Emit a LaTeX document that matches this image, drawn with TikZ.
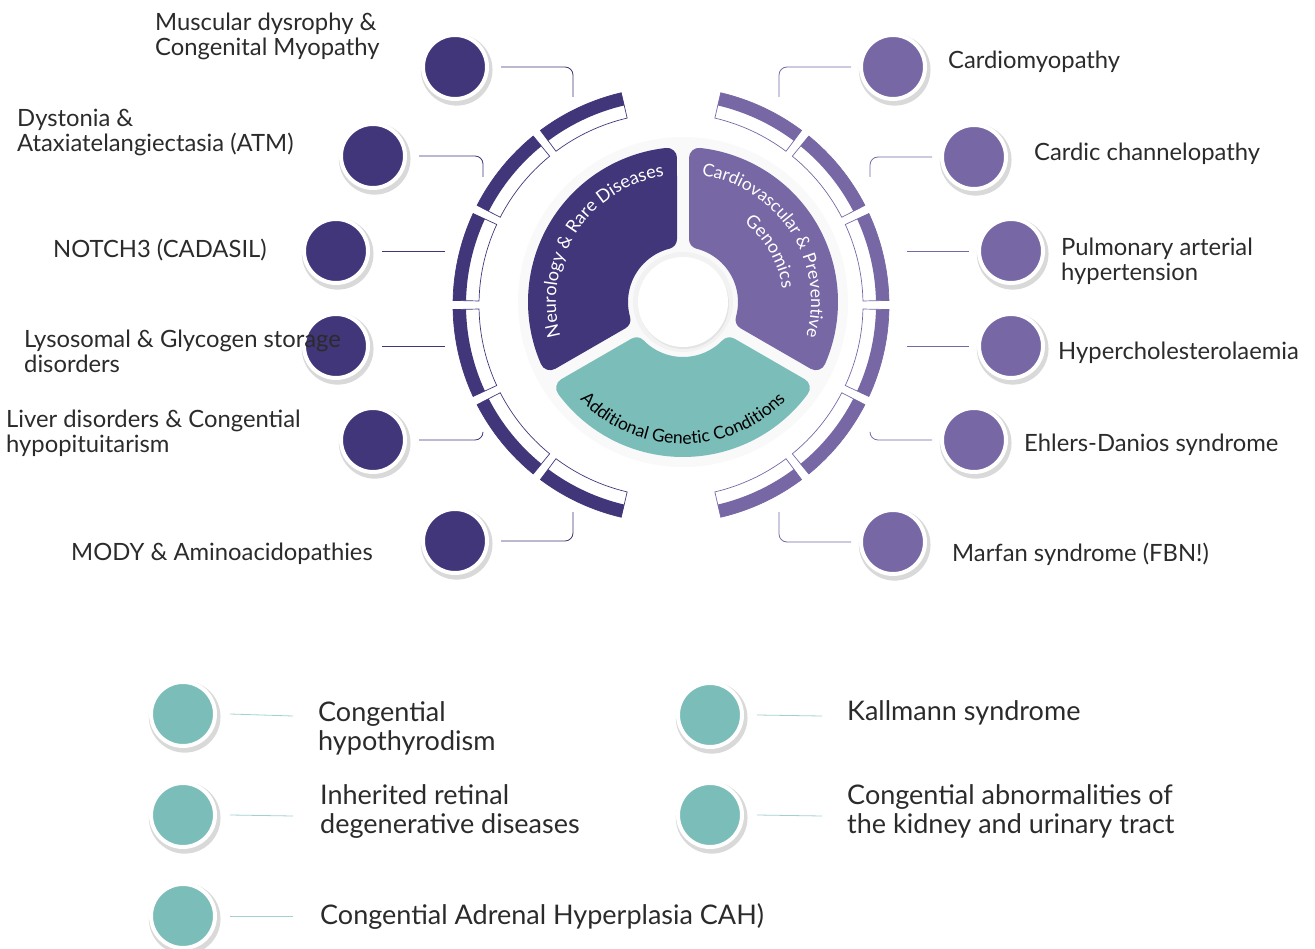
\documentclass[tikz,border=0pt]{standalone}
\usepackage{fontspec}
\setmainfont{Lato}
\usetikzlibrary{decorations.text, shadows}

\definecolor{neuro}{HTML}{41367A}
\definecolor{cardio}{HTML}{7767A5}
\definecolor{extra}{HTML}{7BBDB9}
\definecolor{ink}{HTML}{2B2B2B}

\begin{document}
\begin{tikzpicture}[x=1pt, y=1pt,
  dot/.style={circle, minimum size=64pt, inner sep=0pt, draw=white, line width=4pt,
    drop shadow={shadow xshift=1.5pt, shadow yshift=-2.5pt, shadow scale=1.12, fill=gray, opacity=0.3}},
  lbl/.style={anchor=west, align=left, inner sep=0pt, text=ink, font=\fontsize{23.8}{25}\selectfont},
  big/.style={lbl, font=\fontsize{27}{29}\selectfont},
  link/.style={line width=0.8pt, rounded corners=8pt},
  arctext/.style={decorate, decoration={text along path, text align=center, text color=#1}},
  petal/.style={fill=#1, draw=#1, line width=20pt, line join=round}]
  \useasboundingbox (0,0) rectangle (1315,-949);

  % Outer segmented ring
  \begin{scope}[shift={(671,-305)}]
    \foreach \a/\c in {102/neuro, 128/neuro, 154/neuro, 180/neuro, 206/neuro, 232/neuro,
                       -78/cardio, -52/cardio, -26/cardio, 0/cardio, 26/cardio, 52/cardio}{
      \pgfmathsetmacro\s{\a+1.2}
      \pgfmathsetmacro\e{\a+24.8}
      \fill[\c] (\s:205) arc[start angle=\s, end angle=\e, radius=205]
        -- (\e:218) arc[start angle=\e, end angle=\s, radius=218] -- cycle;
      \draw[\c, line width=0.7pt] (\s:192) arc[start angle=\s, end angle=\e, radius=192]
        -- (\e:218) arc[start angle=\e, end angle=\s, radius=218] -- cycle;
    }
  \end{scope}

  % Three sectors round the hub
  \begin{scope}[shift={(683,-302)}]
    \fill[gray!5] (0,0) circle (165);
    \filldraw[petal=neuro] (104.25:65) -- (96.34:145)
      arc[start angle=96.34, end angle=203.66, radius=145] -- (195.75:65)
      arc[start angle=195.75, end angle=104.25, radius=65] -- cycle;
    \filldraw[petal=cardio] (-15.75:65) -- (-23.66:145)
      arc[start angle=-23.66, end angle=83.66, radius=145] -- (75.75:65)
      arc[start angle=75.75, end angle=-15.75, radius=65] -- cycle;
    \filldraw[petal=extra] (224.25:65) -- (216.34:145)
      arc[start angle=216.34, end angle=323.66, radius=145] -- (315.75:65)
      arc[start angle=315.75, end angle=224.25, radius=65] -- cycle;
    \fill[gray!10] (0,0) circle (50);
    \node[circle, fill=white, minimum size=90pt, inner sep=0pt,
      drop shadow={shadow xshift=1pt, shadow yshift=-2pt, opacity=0.12}] (hub) at (0,0) {};

    % Sector titles
    \path[arctext=white, decoration={text={|\fontsize{18}{18}\selectfont|Neurology {\&} Rare Diseases}}]
      (210:127) arc[start angle=210, end angle=84, radius=127];
    \path[arctext=white, decoration={text={|\fontsize{17.5}{18}\selectfont|Cardiovascular {\&} Preventive}}]
      (95:128) arc[start angle=95, end angle=-29, radius=128];
    \path[arctext=white, decoration={text={|\fontsize{18}{18}\selectfont|Genomics}}]
      (75:100) arc[start angle=75, end angle=-15, radius=100];
    \path[arctext=black, decoration={text={|\fontsize{17.5}{18}\selectfont|Additional Genetic Conditions}}]
      (205:142) arc[start angle=205, end angle=335, radius=142];
  \end{scope}

  % Left column
  \node[dot, fill=neuro] (n1) at (455,-67) {};
  \node[dot, fill=neuro] (n2) at (373,-156) {};
  \node[dot, fill=neuro] (n3) at (336,-251) {};
  \node[dot, fill=neuro] (n4) at (336,-346) {};
  \node[dot, fill=neuro] (n5) at (373,-440) {};
  \node[dot, fill=neuro] (n6) at (455,-541) {};
  \coordinate (n1e) at (573,-97);
  \coordinate (n2e) at (483,-177);
  \coordinate (n3e) at (445,-251);
  \coordinate (n4e) at (445,-346);
  \coordinate (n5e) at (483,-433);
  \coordinate (n6e) at (573,-512);
  \draw[link, neuro] ([xshift=12pt]n1.east) -| (n1e);
  \draw[link, neuro] ([xshift=12pt]n2.east) -| (n2e);
  \draw[link, neuro] ([xshift=12pt]n3.east) -- (n3e);
  \draw[link, neuro] ([xshift=12pt]n4.east) -- (n4e);
  \draw[link, neuro] ([xshift=12pt]n5.east) -| (n5e);
  \draw[link, neuro] ([xshift=12pt]n6.east) -| (n6e);
  \node[lbl] (nl1) at (155,-36.5) {Muscular dysrophy \&\\Congenital Myopathy};
  \node[lbl] (nl2) at (17,-132) {Dystonia \&\\Ataxiatelangiectasia (ATM)};
  \node[lbl] (nl3) at (53,-250) {NOTCH3 (CADASIL)};
  \node[lbl] (nl4) at (24,-351) {Lysosomal \& Glycogen storage\\disorders};
  \node[lbl] (nl5) at (6,-433.5) {Liver disorders \& Congential\\hypopituitarism};
  \node[lbl] (nl6) at (71,-554) {MODY \& Aminoacidopathies};

  % Right column
  \node[dot, fill=cardio] (c1) at (893,-67) {};
  \node[dot, fill=cardio] (c2) at (974,-157) {};
  \node[dot, fill=cardio] (c3) at (1011,-251) {};
  \node[dot, fill=cardio] (c4) at (1011,-346) {};
  \node[dot, fill=cardio] (c5) at (974,-440) {};
  \node[dot, fill=cardio] (c6) at (893,-542) {};
  \coordinate (c1e) at (779,-97);
  \coordinate (c2e) at (870,-177);
  \coordinate (c3e) at (907,-251);
  \coordinate (c4e) at (907,-346);
  \coordinate (c5e) at (870,-433);
  \coordinate (c6e) at (779,-512);
  \draw[link, cardio] ([xshift=-8pt]c1.west) -| (c1e);
  \draw[link, cardio] ([xshift=-8pt]c2.west) -| (c2e);
  \draw[link, cardio] ([xshift=-8pt]c3.west) -- (c3e);
  \draw[link, cardio] ([xshift=-8pt]c4.west) -- (c4e);
  \draw[link, cardio] ([xshift=-8pt]c5.west) -| (c5e);
  \draw[link, cardio] ([xshift=-8pt]c6.west) -| (c6e);
  \node[lbl] (cl1) at (948,-62) {Cardiomyopathy};
  \node[lbl] (cl2) at (1034,-154) {Cardic channelopathy};
  \node[lbl] (cl3) at (1061,-261.5) {Pulmonary arterial\\hypertension};
  \node[lbl] (cl4) at (1058,-353) {Hypercholesterolaemia};
  \node[lbl] (cl5) at (1024,-445) {Ehlers-Danios syndrome};
  \node[lbl] (cl6) at (952,-554) {Marfan syndrome (FBN!)};

  % Additional conditions
  \node[dot, fill=extra] (a1) at (183,-714) {};
  \node[dot, fill=extra] (a2) at (183,-815) {};
  \node[dot, fill=extra] (a3) at (183,-916) {};
  \node[dot, fill=extra] (a4) at (710,-715) {};
  \node[dot, fill=extra] (a5) at (710,-815) {};
  \coordinate (a1e) at (293,-716);
  \coordinate (a2e) at (293,-816);
  \coordinate (a3e) at (293,-916);
  \coordinate (a4e) at (822,-716);
  \coordinate (a5e) at (822,-816);
  \foreach \i in {1,...,5}
    \draw[link, extra!70] ([xshift=13pt]a\i.east) -- (a\i e);
  \node[big] (al1) at (318,-728.5) {Congential\\hypothyrodism};
  \node[big] (al2) at (320,-811.5) {Inherited retinal\\degenerative diseases};
  \node[big] (al3) at (320,-916) {Congential Adrenal Hyperplasia CAH)};
  \node[big] (al4) at (847,-713) {Kallmann syndrome};
  \node[big] (al5) at (847,-811.5) {Congential abnormalities of\\the kidney and urinary tract};
\end{tikzpicture}
\end{document}
